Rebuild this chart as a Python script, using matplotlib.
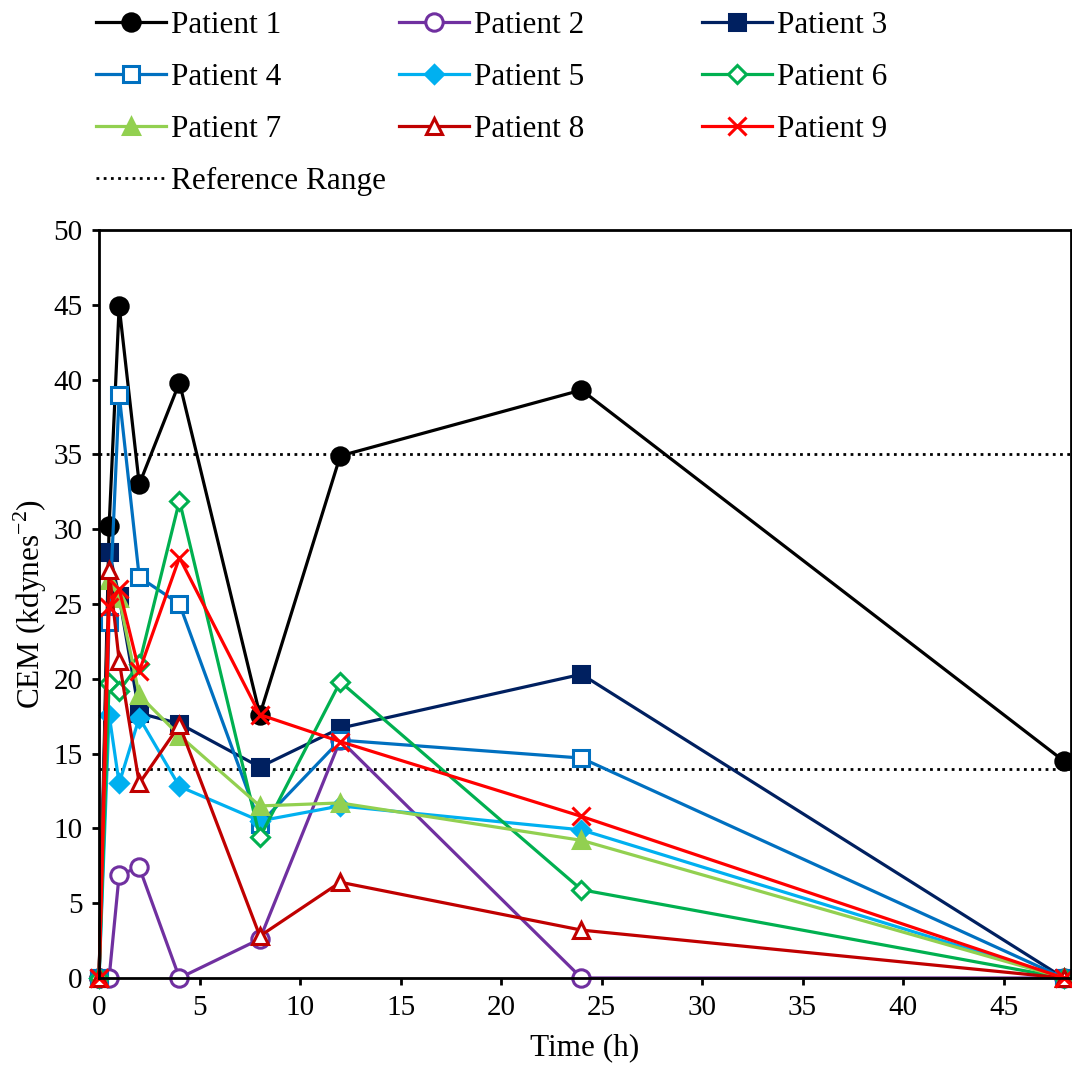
import matplotlib
matplotlib.use("Agg")
import matplotlib.pyplot as plt
from matplotlib.lines import Line2D

plt.rcParams['font.family'] = ['Liberation Serif', 'DejaVu Serif']
plt.rcParams['mathtext.fontset'] = 'custom'
plt.rcParams['mathtext.rm'] = 'Liberation Serif'

# Sampling times (h)
time_h = [0, 0.5, 1, 2, 4, 8, 12, 24, 48]

# CEM (kdynes^-2) per patient
patient_1 = [0, 30.2, 44.9, 33.0, 39.8, 17.6, 34.9, 39.3, 14.5]
patient_2 = [0, 0, 6.9, 7.4, 0, 2.6, 15.9, 0, 0]
patient_3 = [0, 28.5, 25.5, 17.7, 17.0, 14.1, 16.7, 20.3, 0]
patient_4 = [0, 23.8, 39.0, 26.8, 25.0, 10.3, 15.9, 14.7, 0]
patient_5 = [0, 17.6, 13.0, 17.4, 12.8, 10.5, 11.5, 9.9, 0]
patient_6 = [0, 19.7, 19.2, 21.0, 31.9, 9.4, 19.8, 5.9, 0]
patient_7 = [0, 26.6, 25.4, 18.9, 16.2, 11.5, 11.7, 9.2, 0]
patient_8 = [0, 27.3, 21.2, 13.0, 16.9, 2.8, 6.4, 3.2, 0]
patient_9 = [0, 24.8, 26.0, 20.5, 28.1, 17.6, 15.8, 10.8, 0]

reference_range = [14, 35]

series = [
    ("Patient 1", patient_1, "#000000", "o", True),
    ("Patient 2", patient_2, "#7030A0", "o", False),
    ("Patient 3", patient_3, "#002060", "s", True),
    ("Patient 4", patient_4, "#0070C0", "s", False),
    ("Patient 5", patient_5, "#00B0F0", "D", True),
    ("Patient 6", patient_6, "#00B050", "D", False),
    ("Patient 7", patient_7, "#92D050", "^", True),
    ("Patient 8", patient_8, "#C00000", "^", False),
    ("Patient 9", patient_9, "#FF0000", "x", True),
]
marker_sizes = {"o": 12.5, "s": 11, "D": 9.5, "^": 12, "x": 12.5}

fig = plt.figure(figsize=(10.72, 10.72), dpi=100)
ax = fig.add_axes([0.0924, 0.0877, 0.9066, 0.6978])

handles = {}
for name, vals, color, marker, filled in series:
    kw = dict(color=color, lw=2.3, marker=marker, markersize=marker_sizes[marker],
              markeredgecolor=color, markeredgewidth=2.2, clip_on=False,
              markerfacecolor=color if filled else "white")
    ln, = ax.plot(time_h, vals, label=name, **kw)
    handles[name] = ln

dotted = (0, (1, 1.6))
for yv in reference_range:
    ax.axhline(yv, color="black", lw=2.0, linestyle=dotted, zorder=1)
ref_handle = Line2D([], [], color="black", lw=2.0, linestyle=dotted)

ax.set_xlim(0, 48.35)
ax.set_ylim(0, 50)
ax.set_xticks(range(0, 50, 5))
ax.set_yticks(range(0, 51, 5))
ax.tick_params(labelsize=21, width=2, length=5, direction="out", pad=7)
for s in ax.spines.values():
    s.set_linewidth(2)
ax.set_xlabel("Time (h)", fontsize=22.5, labelpad=9)
ax.set_ylabel(r"CEM (kdynes$^{\mathregular{-2}}$)", fontsize=22.5, labelpad=3)

order = ["Patient 1", "Patient 4", "Patient 7",
         "Patient 2", "Patient 5", "Patient 8",
         "Patient 3", "Patient 6", "Patient 9"]
leg_kw = dict(loc="upper left", frameon=False, fontsize=22.5, borderpad=0,
              handlelength=2.24, handletextpad=0.16, columnspacing=3.78,
              labelspacing=0.74)
leg1 = fig.legend([handles[k] for k in order], order, ncol=3,
                  bbox_to_anchor=(0.0746, 1.0046), **leg_kw)
leg2 = fig.legend([ref_handle], ["Reference Range"],
                  bbox_to_anchor=(0.0746, 0.859), **leg_kw)

fig.savefig("out.png", dpi=100)
